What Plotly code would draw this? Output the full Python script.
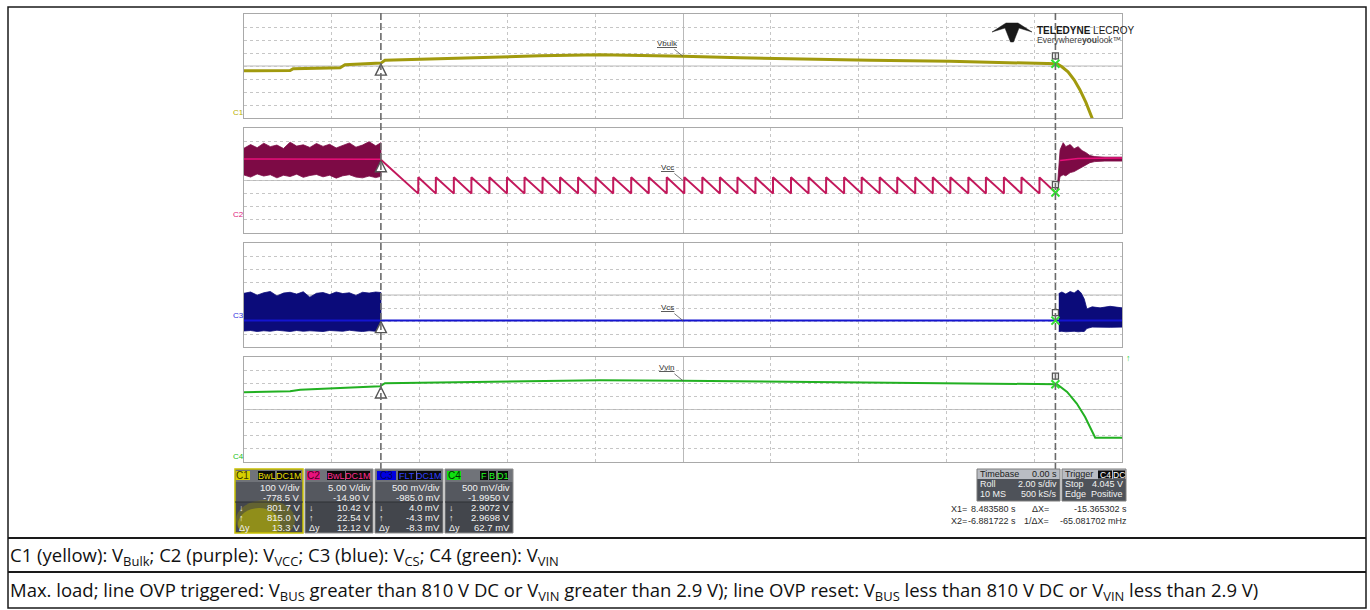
import plotly.graph_objects as go

W, H = 1370, 610

# ---------------- data ----------------
t_range = [-10, 10]          # 2 s/div, 10 div
cursor_t = [-6.881722, 8.483580]   # X2 (left), X1 (right)

ch_names = ["C1", "C2", "C3", "C4"]
ch_vdiv = [100, 5.0, 0.5, 0.5]
ch_center = [778.5, 14.90, 0.985, 1.995]
ch_colors = ["#a19a0e", "#c2185b", "#1414d0", "#22b022"]
ch_label_colors = ["#b8b000", "#e0207a", "#3030e0", "#20c020"]
trace_labels = ["Vbulk", "Vcc", "Vcs", "Vvin"]
trace_label_v = [852.8, 14.9, 0.0, 3.09]

# C1  V_bulk
c1_t = [-10.0, -8.95, -8.88, -7.81, -7.70, -6.88, -6.79, -5.76, -4.62, -3.26, -1.89, -0.75, 0.0,
        1.30, 2.67, 4.26, 6.08, 7.68, 8.52, 8.63, 8.77, 8.91, 9.04, 9.18, 9.27, 9.36]
c1_v = [741.7, 744.0, 758.0, 764.7, 788.0, 800.7, 822.2, 833.7, 845.2, 856.7, 864.3, 860.5, 852.8,
        841.3, 829.8, 822.2, 814.5, 803.0, 795.4, 772.4, 734.1, 672.7, 596.1, 496.1, 419.5, 342.9]

# C2  V_cc : switching band before X2, sawtooth (hiccup) between cursors, restart burst after X1
c2_band_t = [-10.0, -9.85, -9.7, -9.55, -9.4, -9.25, -9.1, -8.95, -8.8, -8.65, -8.5,
             -8.35, -8.2, -8.05, -7.9, -7.75, -7.6, -7.45, -7.3, -7.15, -7.0, -6.88]
c2_band_hi = [27.2, 28.6, 27.4, 29.1, 27.8, 28.4, 27.1, 29.5, 28.0, 28.5, 27.5,
              29.0, 27.9, 28.7, 27.3, 28.2, 29.2, 27.6, 28.4, 29.7, 28.1, 29.3]
c2_band_lo = [17.0, 16.2, 17.4, 16.6, 17.1, 15.9, 16.9, 16.4, 17.3, 16.1, 16.8,
              17.2, 16.3, 16.9, 15.8, 16.7, 17.1, 16.2, 15.9, 16.6, 16.0, 16.5]
c2_mid_t = [-10.0, -6.88]
c2_mid_v = [23.1, 23.0]
c2_start_v = 22.8
c2_trough_t = [-6.03, -5.63, -5.22, -4.82, -4.41, -4.01, -3.61, -3.20, -2.80, -2.39, -1.99, -1.59,
               -1.18, -0.78, -0.37, 0.03, 0.44, 0.84, 1.24, 1.65, 2.05, 2.46, 2.86, 3.26,
               3.67, 4.07, 4.48, 4.88, 5.29, 5.69, 6.09, 6.50, 6.90, 7.31, 7.71, 8.12]
c2_low, c2_high = 9.9, 16.1
c2_end_v = 10.3
c2_burst_t = [8.52, 8.59, 8.66, 8.72, 8.82, 8.91, 9.00, 9.09, 9.18, 9.27, 9.38, 9.61, 10.0]
c2_burst_hi = [10.6, 26.6, 29.3, 27.8, 28.6, 27.0, 27.8, 26.3, 25.5, 24.4, 24.0, 23.8, 23.8]
c2_burst_lo = [10.3, 16.4, 17.1, 16.7, 17.9, 18.3, 19.0, 19.8, 20.9, 21.7, 22.1, 22.3, 22.3]
c2_bmid_t = [8.59, 9.0, 10.0]
c2_bmid_v = [22.5, 23.3, 23.5]

# C3  V_cs
c3_band_t = c2_band_t
c3_band_hi = [1.05, 1.10, 0.98, 1.07, 1.12, 0.95, 1.06, 1.09, 1.02, 1.11, 0.90,
              1.05, 1.08, 1.00, 1.10, 1.04, 1.07, 0.97, 1.09, 1.06, 1.10, 1.08]
c3_band_lo = [-0.40, -0.38, -0.42, -0.39, -0.41, -0.37, -0.40, -0.42, -0.38, -0.41, -0.39,
              -0.40, -0.42, -0.38, -0.40, -0.41, -0.37, -0.40, -0.42, -0.39, -0.41, -0.40]
c3_base_t = [-10.0, 10.0]
c3_base_v = [0.0, 0.0]
c3_burst_t = [8.56, 8.63, 8.72, 8.82, 8.91, 9.00, 9.07, 9.14, 9.20, 9.32, 9.50, 9.73, 10.0]
c3_burst_hi = [1.04, 1.10, 1.02, 1.12, 1.06, 1.18, 1.06, 0.83, 0.45, 0.53, 0.49, 0.55, 0.49]
c3_burst_lo = [-0.42, -0.41, -0.43, -0.42, -0.41, -0.43, -0.42, -0.42, -0.30, -0.25, -0.24, -0.26, -0.25]

# C4  V_vin
c4_t = [-10.0, -8.95, -8.72, -7.81, -6.90, -6.79, -4.62, -1.89, 0.0, 2.67, 6.08, 8.52,
        8.75, 8.97, 9.16, 9.39, 10.0]
c4_v = [2.652, 2.690, 2.747, 2.804, 2.881, 2.995, 3.052, 3.110, 3.090, 3.052, 3.014, 2.957,
        2.663, 2.220, 1.709, 0.922, 0.922]

cursor_left_v = [800.7, 22.8, 0.0, 2.89]
cursor_right_v = [795.4, 10.3, 0.0, 2.957]

# readout boxes
box_tags = [["BwL", "DC1M"], ["BwL", "DC1M"], ["FLT", "DC1M"], ["F", "B", "D1"]]
box_vdiv = ["100 V/div", "5.00 V/div", "500 mV/div", "500 mV/div"]
box_offset = ["-778.5 V", "-14.90 V", "-985.0 mV", "-1.9950 V"]
box_down = ["801.7 V", "10.42 V", "4.0 mV", "2.9072 V"]
box_up = ["815.0 V", "22.54 V", "-4.3 mV", "2.9698 V"]
box_dy = ["13.3 V", "12.12 V", "-8.3 mV", "62.7 mV"]
timebase_rows = [("Timebase", "0.00 s"), ("Roll", "2.00 s/div"), ("10 MS", "500 kS/s")]
trigger_rows = [("Trigger", ""), ("Stop", "4.045 V"), ("Edge", "Positive")]
cursor_rows = [("X1=", "8.483580 s", "\u0394X=", "-15.365302 s"),
               ("X2=", "-6.881722 s", "1/\u0394X=", "-65.081702 mHz")]

caption1 = ("C1 (yellow): V<sub>Bulk</sub>; C2 (purple): V<sub>VCC</sub>; C3 (blue): V<sub>CS</sub>; "
            "C4 (green): V<sub>VIN</sub>")
caption2 = ("Max. load; line OVP triggered: V<sub>BUS</sub> greater than 810 V DC or V<sub>VIN</sub> greater "
            "than 2.9 V); line OVP reset: V<sub>BUS</sub> less than 810 V DC or V<sub>VIN</sub> less than 2.9 V)")

# ---------------- layout helpers ----------------
panels_px = [(14, 118), (128, 233), (243, 347), (357, 462)]
gx0, gx1 = 244, 1122

shapes, annots = [], []


def px(x):
    return x / W


def py(y):
    return 1 - y / H


def rect(x0, y0, x1, y1, fill, line=None, lw=0, kind="rect"):
    shapes.append(dict(type=kind, xref="paper", yref="paper", x0=px(x0), x1=px(x1),
                       y0=py(y1), y1=py(y0), fillcolor=fill,
                       line=dict(color=line or fill, width=lw), layer="above"))


def hline(x0, x1, y, color, w):
    shapes.append(dict(type="line", xref="paper", yref="paper", x0=px(x0), x1=px(x1),
                       y0=py(y), y1=py(y), line=dict(color=color, width=w), layer="above"))


def txt(x, y, s, size=9, color="#ffffff", anchor="left", family="Liberation Sans"):
    annots.append(dict(xref="paper", yref="paper", x=px(x), y=py(y), text=s, showarrow=False,
                       xanchor=anchor, yanchor="middle", borderpad=0,
                       font=dict(size=size, color=color, family=family)))


fig = go.Figure()
layout = dict(width=W, height=H, margin=dict(l=0, r=0, t=0, b=0), paper_bgcolor="white",
              plot_bgcolor="white", showlegend=False, hovermode=False)

for i in range(4):
    n = "" if i == 0 else str(i + 1)
    top, bot = panels_px[i]
    c, d = ch_center[i], ch_vdiv[i]
    layout["xaxis" + n] = dict(domain=[px(gx0), px(gx1)], range=t_range, tick0=0, dtick=2,
                               showgrid=True, gridcolor="#c6c6c6", griddash="dot", gridwidth=1,
                               zeroline=True, zerolinecolor="#b9b9b9", zerolinewidth=1,
                               showline=True, mirror=True, linecolor="#a9a9a9", linewidth=1.3,
                               showticklabels=False, ticks="", anchor="y" + n, fixedrange=True)
    if i > 0:
        layout["xaxis" + n]["matches"] = "x"
    layout["yaxis" + n] = dict(domain=[py(bot), py(top)], range=[c - 4 * d, c + 4 * d],
                               tick0=c, dtick=d, showgrid=True, gridcolor="#c6c6c6", griddash="dot",
                               zeroline=False, showline=True, mirror=True, linecolor="#a9a9a9",
                               linewidth=1.3, showticklabels=False, ticks="", anchor="x" + n,
                               fixedrange=True)
    shapes.append(dict(type="line", xref="x" + n + " domain", yref="y" + n, x0=0, x1=1, y0=c, y1=c,
                       line=dict(color="#b9b9b9", width=1), layer="below"))


def add(xs, ys, i, **kw):
    n = "" if i == 0 else str(i + 1)
    fig.add_trace(go.Scatter(x=xs, y=ys, xaxis="x" + n, yaxis="y" + n, hoverinfo="skip", **kw))


def band(ts, hi, lo, i, color):
    add(list(ts) + list(ts)[::-1], list(hi) + list(lo)[::-1], i, mode="lines", fill="toself",
        fillcolor=color, line=dict(color=color, width=0.8))


# C1
add(c1_t, c1_v, 0, mode="lines", line=dict(color=ch_colors[0], width=3))
# C2
band(c2_band_t, c2_band_hi, c2_band_lo, 1, "#7d0a45")
add(c2_mid_t, c2_mid_v, 1, mode="lines", line=dict(color="#e8107a", width=1.5))
saw_t, saw_v = [cursor_t[0]], [c2_start_v]
for tt in c2_trough_t:
    saw_t += [tt, tt]
    saw_v += [c2_low, c2_high]
saw_t.append(cursor_t[1])
saw_v.append(c2_end_v)
add(saw_t, saw_v, 1, mode="lines", line=dict(color=ch_colors[1], width=2))
band(c2_burst_t, c2_burst_hi, c2_burst_lo, 1, "#7d0a45")
add(c2_bmid_t, c2_bmid_v, 1, mode="lines", line=dict(color="#e8107a", width=1.5))
# C3
band(c3_band_t, c3_band_hi, c3_band_lo, 2, "#0b0b7a")
band(c3_burst_t, c3_burst_hi, c3_burst_lo, 2, "#0b0b7a")
add(c3_base_t, c3_base_v, 2, mode="lines", line=dict(color=ch_colors[2], width=2))
# C4
add(c4_t, c4_v, 3, mode="lines", line=dict(color=ch_colors[3], width=2))

# markers per panel
for i in range(4):
    n = "" if i == 0 else str(i + 1)
    c, d = ch_center[i], ch_vdiv[i]
    lo = c - 4 * d
    pxv = d / 13.07  # value per pixel
    add([cursor_t[0]], [cursor_left_v[i] - 1 * pxv], i, mode="markers",
        marker=dict(symbol="arrow-up", size=11, color="white", line=dict(color="#555555", width=1.4)))
    add([cursor_t[1]], [cursor_right_v[i] + 8 * pxv], i, mode="markers",
        marker=dict(symbol="square", size=6, color="white", line=dict(color="#555555", width=1.3)))
    add([cursor_t[1]], [cursor_right_v[i]], i, mode="markers",
        marker=dict(symbol="x-thin", size=8, color="#30e030", line=dict(color="#30e030", width=2)))
    add([0], [lo - 0.36 * d], i, mode="markers", cliponaxis=False,
        marker=dict(symbol="triangle-up", size=7, color=ch_label_colors[i]))
    annots.append(dict(xref="paper", yref="y" + n, x=px(238), y=max(0.0, lo), text=ch_names[i],
                       showarrow=False, xanchor="center", yanchor="bottom", borderpad=0,
                       font=dict(size=8, color=ch_label_colors[i], family="Liberation Sans")))
    annots.append(dict(xref="x" + n, yref="y" + n, x=0, y=trace_label_v[i],
                       text="<u>" + trace_labels[i] + "</u>", showarrow=True, arrowhead=0,
                       arrowwidth=0.8, arrowcolor="#555555", ax=-16, ay=-13,
                       font=dict(size=8, color="#333333", family="Liberation Sans")))

# cursor dashed lines
for tc in cursor_t:
    shapes.append(dict(type="line", xref="x", yref="paper", x0=tc, x1=tc, y0=py(470), y1=py(12),
                       line=dict(color="#6a6a6a", width=1.6, dash="7px,3px"), layer="above"))

txt(1128, 358, "\u2191", size=9, color="#30d030", anchor="center")

# ---------------- logo ----------------
shapes.append(dict(type="path", xref="paper", yref="paper",
                   path="M {} {} L {} {} L {} {} L {} {} L {} {} L {} {} L {} {} L {} {} Z".format(
                       px(992), py(32), px(1006), py(23), px(1018), py(23), px(1032), py(32),
                       px(1019), py(28), px(1013.5), py(42), px(1010.5), py(42), px(1005), py(28)),
                   fillcolor="#1a1a1a", line=dict(color="#1a1a1a", width=0.5), layer="above"))
txt(1036, 30, "<b>TELEDYNE</b> LECROY", size=10, color="#1a1a1a")
txt(1036, 40, "Everywhere<b>you</b>look\u2122", size=8.5, color="#444444")

# ---------------- channel readout boxes ----------------
badge_fill = ["#d6cf00", "#e8127c", "#0000e0", "#10e010"]
badge_text = ["#3a3a00", "#4a0025", "#000060", "#003000"]
tag_text = ["#e6de00", "#ff2a90", "#3040ff", "#20ff20"]
badge_px = [(236, 250), (307, 320), (377, 396), (447, 461)]
tag_px = [[(258, 275), (277, 301)], [(327, 345), (346, 370)], [(398, 416), (417, 441)],
          [(480, 488), (489, 496), (498, 508)]]
for i in range(4):
    x0 = 235 + 70 * i
    x1 = x0 + 68
    rect(x0, 469, x1, 482, "#707379")
    rect(x0, 482, x1, 502, "#55585f")
    rect(x0, 502, x1, 533, "#43464c")
    if i == 0:
        rect(x0 + 1, 500, x0 + 60, 540, "rgba(160,155,0,0.35)", kind="circle")
        rect(x0 + 3, 508, x0 + 45, 540, "rgba(200,195,0,0.45)", kind="circle")
        rect(x0, 533, x1, 545, "#ffffff")
        rect(x0, 469, x1, 533, "rgba(0,0,0,0)", line="#c8c000", lw=1.5)
    else:
        rect(x0, 469, x1, 533, "rgba(0,0,0,0)", line="#8c8c8c", lw=1)
    b0, b1 = badge_px[i]
    rect(b0, 471, b1, 480, badge_fill[i])
    txt((b0 + b1) / 2, 475.5, ch_names[i], size=10, color=badge_text[i], anchor="center")
    for (t0, t1), tg in zip(tag_px[i], box_tags[i]):
        rect(t0, 471, t1, 480, "#0a0a0a")
        txt((t0 + t1) / 2, 475.5, tg, size=9, color=tag_text[i], anchor="center")
    txt(x1 - 2, 487, box_vdiv[i], size=9.5, color="#f2f2f2", anchor="right")
    txt(x1 - 2, 497, box_offset[i], size=9.5, color="#f2f2f2", anchor="right")
    txt(x1 - 2, 507.5, box_down[i], size=9.5, color="#f2f2f2", anchor="right")
    txt(x1 - 2, 517.5, box_up[i], size=9.5, color="#f2f2f2", anchor="right")
    txt(x1 - 2, 527.5, box_dy[i], size=9.5, color="#f2f2f2", anchor="right")
    txt(x0 + 3, 507.5, "\u2193", size=9, color="#f2f2f2")
    txt(x0 + 3, 517.5, "\u2191", size=9, color="#f2f2f2")
    txt(x0 + 3, 527.5, "\u0394y", size=9, color="#f2f2f2")
    shapes.append(dict(type="line", xref="paper", yref="paper", x0=px(x0), x1=px(x1),
                       y0=py(502), y1=py(502), line=dict(color="#2e3034", width=1), layer="above"))

# timebase / trigger boxes
for (bx0, bx1, rows) in [(977, 1060, timebase_rows), (1062, 1126, trigger_rows)]:
    rect(bx0, 469, bx1, 479, "#b9bcc3")
    rect(bx0, 479, bx1, 501, "#4e5259")
    rect(bx0, 469, bx1, 501, "rgba(0,0,0,0)", line="#7d7d7d", lw=1)
    for k, (a, b) in enumerate(rows):
        yy = 474 + 10 * k
        col = "#1c1c1c" if k == 0 else "#f2f2f2"
        txt(bx0 + 2, yy, a, size=9, color=col)
        if b:
            txt(bx1 - 2, yy, b, size=9, color=col, anchor="right")
rect(1098, 470.5, 1112, 478.5, "#0a0a0a")
txt(1105, 474.5, "C4", size=8.5, color="#ffffff", anchor="center")
rect(1113, 470.5, 1125, 478.5, "#0a0a0a")
txt(1119, 474.5, "DC", size=8.5, color="#ffffff", anchor="center")

for k, (a, b, c_, d_) in enumerate(cursor_rows):
    yy = 508.5 + 12 * k
    txt(950, yy, a, size=9, color="#2a2a2a")
    txt(1017, yy, b, size=9, color="#2a2a2a", anchor="right")
    txt(1050, yy, c_, size=9, color="#2a2a2a", anchor="right")
    txt(1128, yy, d_, size=9, color="#2a2a2a", anchor="right")

# ---------------- table frame + captions ----------------
rect(8, 7, 1366, 608, "rgba(0,0,0,0)", line="#1a1a1a", lw=1.5)
hline(8, 1366, 538, "#1a1a1a", 2)
hline(8, 1366, 572, "#1a1a1a", 2)
txt(9, 556, caption1, size=18.5, color="#111111", family="Open Sans")
txt(9, 591, caption2, size=18.5, color="#111111", family="Open Sans")

layout["shapes"] = shapes
layout["annotations"] = annots
fig.update_layout(**layout)
fig.write_html("out.html")
